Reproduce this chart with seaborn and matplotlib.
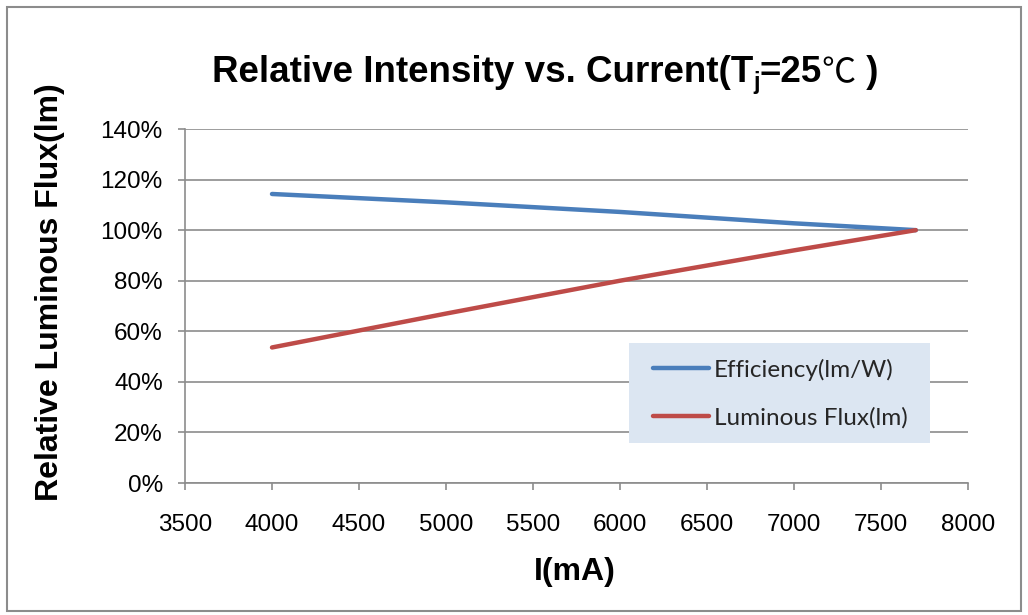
import numpy as np
import pandas as pd
import matplotlib
matplotlib.use("Agg")
import matplotlib.pyplot as plt
import seaborn as sns
from matplotlib.patches import Rectangle
from matplotlib.lines import Line2D
from matplotlib.ticker import FuncFormatter

# ---- data ----
current_ma = [4000, 5000, 6000, 7000, 7700]
efficiency = [114.3, 111.0, 107.2, 102.7, 100.0]
luminous_flux = [53.6, 67.0, 80.0, 92.0, 100.0]
series_names = ["Efficiency(lm/W)", "Luminous Flux(lm)"]
series_colors = ["#4A7EBB", "#BE4B48"]
x_ticks = [3500, 4000, 4500, 5000, 5500, 6000, 6500, 7000, 7500, 8000]
y_ticks = [0, 20, 40, 60, 80, 100, 120, 140]

df = pd.DataFrame({
    "I": current_ma * 2,
    "val": efficiency + luminous_flux,
    "series": [series_names[0]] * len(current_ma) + [series_names[1]] * len(current_ma),
})

sns.set_theme(style="white")
plt.rcParams["font.family"] = ["Liberation Sans", "DejaVu Sans"]

W, H = 1028, 615
fig = plt.figure(figsize=(W / 100, H / 100), dpi=100)
fig.patch.set_facecolor("white")

def fx(px):
    return px / W

def fy(py):
    return 1 - py / H

ax_left, ax_right, ax_top, ax_bottom = 185, 968, 129, 483
ax = fig.add_axes([fx(ax_left), fy(ax_bottom), fx(ax_right - ax_left), (ax_bottom - ax_top) / H])

sns.lineplot(data=df, x="I", y="val", hue="series", palette=series_colors,
             linewidth=3.2, ax=ax, legend=False, sort=True)
for ln in ax.lines:
    ln.set_solid_capstyle("round")

ax.set_xlim(3500, 8000)
ax.set_ylim(0, 140)
ax.set_xticks(x_ticks)
ax.set_yticks(y_ticks)
ax.yaxis.set_major_formatter(FuncFormatter(lambda v, p: f"{int(round(v))}%"))
ax.xaxis.set_major_formatter(FuncFormatter(lambda v, p: f"{int(v)}"))
ax.set_xlabel("")
ax.set_ylabel("")

ax.grid(axis="y", color="#8C8C8C", linewidth=1.2)
ax.grid(axis="x", visible=False)
ax.set_axisbelow(True)
for s in ["top", "right"]:
    ax.spines[s].set_visible(False)
for s in ["left", "bottom"]:
    ax.spines[s].set_visible(True)
    ax.spines[s].set_color("#8C8C8C")
    ax.spines[s].set_linewidth(1.2)

ax.tick_params(axis="both", which="major", direction="out", length=5, width=1.2,
               color="#8C8C8C", labelsize=17.5, labelcolor="black")
ax.tick_params(axis="y", pad=11, left=True)
ax.tick_params(axis="x", pad=17, bottom=True)

# axis titles
fig.text(fx(50), fy(292), "Relative Luminous Flux(lm)", rotation=90, ha="center", va="center",
         fontsize=23, fontweight="bold", color="black")
fig.text(fx(575), fy(572), "I(mA)", ha="center", va="center",
         fontsize=23, fontweight="bold", color="black")

# legend background and legend
fig.patches.append(Rectangle((fx(629), fy(443)), fx(930 - 629), (443 - 343) / H,
                             transform=fig.transFigure, facecolor="#DCE6F2",
                             edgecolor="none", zorder=2))
handles = [Line2D([0], [0], color=c, lw=3.2, solid_capstyle="round") for c in series_colors]
leg = fig.legend(handles, series_names, loc="upper left",
                 bbox_to_anchor=(fx(634), fy(339)), bbox_transform=fig.transFigure,
                 frameon=False, prop={"family": "Lato", "size": 17.5},
                 handlelength=2.3, handletextpad=0.2, labelspacing=1.1,
                 borderpad=0.3)
leg.set_zorder(3)

# title built from pieces (subscript j, ℃ glyph)
renderer = fig.canvas.get_renderer()
big = 26.5
parts = [
    ("Relative Intensity vs. Current(T", dict(fontsize=big, fontweight="bold"), 0),
    ("j", dict(fontsize=17, fontweight="bold"), -7),
    ("=25", dict(fontsize=big, fontweight="bold"), 0),
    ("℃", dict(fontsize=big - 2, fontweight="normal", family=["Noto Sans CJK SC", "DejaVu Sans"]), 0),
    (" )", dict(fontsize=big, fontweight="bold"), 0),
]
texts = []
widths = []
for s, kw, dy in parts:
    t = fig.text(0, 0, s, ha="left", va="baseline", color="black", **kw)
    bb = t.get_window_extent(renderer)
    texts.append(t)
    widths.append(bb.width)
total = sum(widths)
cx, base = 545, 82
x = cx - total / 2
for t, w, (s, kw, dy) in zip(texts, widths, parts):
    t.set_position((fx(x), fy(base - dy)))
    x += w

# outer border
fig.patches.append(Rectangle((fx(7), fy(611)), fx(1021 - 7), (611 - 7) / H,
                             transform=fig.transFigure, facecolor="none",
                             edgecolor="#8C8C8C", linewidth=1.5, zorder=0))

fig.savefig("out.png", dpi=100, facecolor="white")
